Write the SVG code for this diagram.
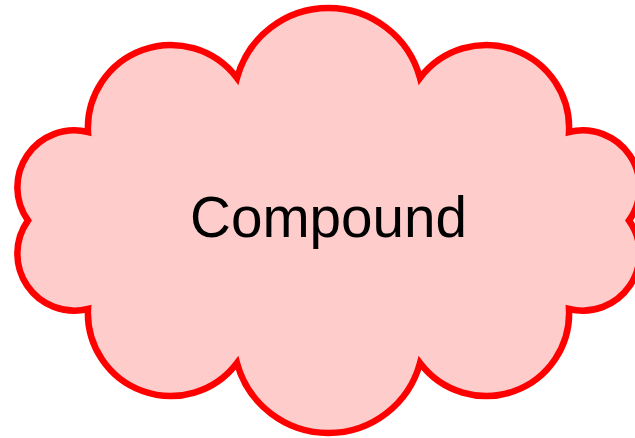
<svg xmlns="http://www.w3.org/2000/svg" width="635" height="438" viewBox="0 0 635 438">
<style>
.cloud{fill:#ffcccc;stroke:#ff0000;stroke-width:6.5;stroke-linejoin:miter;stroke-miterlimit:10}
.lbl{font-family:"Liberation Sans",Arial,sans-serif;font-size:58px;fill:#000}
</style>
<rect width="635" height="438" fill="#ffffff"/>
<g id="compound">
<path class="cloud" d="M 237 78 A 94.8 94.8 0 0 1 420 78 A 82.9 82.9 0 0 1 569 132 A 57 57 0 0 1 629 220.5 A 57 57 0 0 1 569 309 A 82.9 82.9 0 0 1 420 363 A 94.8 94.8 0 0 1 237 363 A 82.9 82.9 0 0 1 88 309 A 57 57 0 0 1 28 220.5 A 57 57 0 0 1 88 132 A 82.9 82.9 0 0 1 237 78 Z"/>
<text class="lbl" x="328.5" y="237" text-anchor="middle" textLength="277" lengthAdjust="spacingAndGlyphs">Compound</text>
</g>
<g id="connectors"></g>
</svg>
